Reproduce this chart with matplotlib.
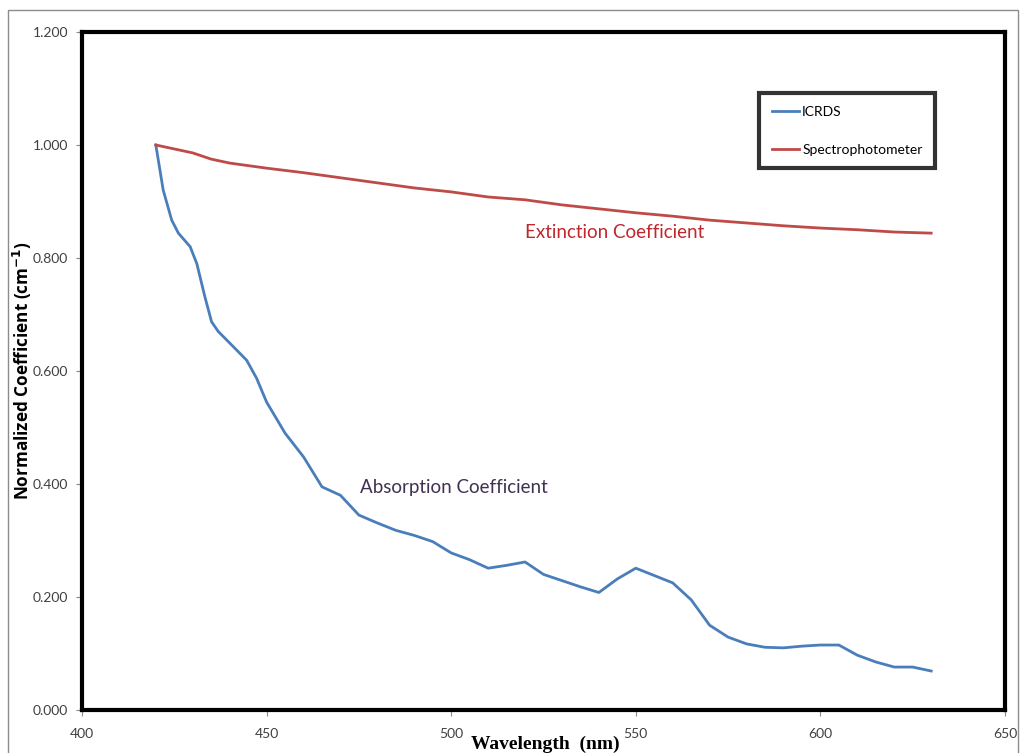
import numpy as np
import matplotlib.pyplot as plt
from matplotlib.patches import Rectangle

# ICRDS wavelengths (nm), denser where the curve drops steeply
icrds_wl = [420, 422, 424.3, 426.1, 429.3, 431.1, 433.3, 435.1, 436.9, 441.9,
            444.6, 447.3, 450, 455, 460, 465, 470, 475, 480, 485, 490, 495,
            500, 505, 510, 515, 520, 525, 530, 535, 540, 545, 550, 555, 560,
            565, 570, 575, 580, 585, 590, 595, 600, 605, 610, 615, 620, 625,
            630]

# normalized absorption coefficient (ICRDS)
icrds = [1.000, 0.920, 0.867, 0.844, 0.820, 0.790, 0.731, 0.687, 0.670, 0.637,
         0.619, 0.587, 0.545, 0.490, 0.448, 0.395, 0.380, 0.345, 0.331, 0.318,
         0.309, 0.298, 0.278, 0.266, 0.251, 0.256, 0.262, 0.240, 0.229, 0.218,
         0.208, 0.232, 0.251, 0.238, 0.225, 0.195, 0.150, 0.129, 0.117, 0.111,
         0.110, 0.113, 0.115, 0.115, 0.097, 0.085, 0.076, 0.076, 0.069]

# normalized extinction coefficient (spectrophotometer)
spectro_wl = [420, 430, 435, 440, 450, 460, 470, 480, 490, 500, 510, 520,
              530, 540, 550, 560, 570, 580, 590, 600, 610, 620, 630]
spectro = [1.000, 0.986, 0.975, 0.968, 0.959, 0.951, 0.942, 0.933, 0.924,
           0.917, 0.908, 0.903, 0.894, 0.887, 0.880, 0.874, 0.867, 0.862,
           0.857, 0.853, 0.850, 0.846, 0.844]

xticks = [400, 450, 500, 550, 600, 650]
yticks = [0.0, 0.2, 0.4, 0.6, 0.8, 1.0, 1.2]

plt.rcParams['font.family'] = ['Lato', 'DejaVu Sans']

fig = plt.figure(figsize=(10.24, 7.53), dpi=100)
fig.patches.append(Rectangle((8 / 1024, -0.05), 1010 / 1024, 1.05 - 10 / 753,
                             transform=fig.transFigure, fill=False,
                             edgecolor='#8c8c8c', linewidth=1.0))

ax = fig.add_axes([82 / 1024, 1 - 710 / 753, 923 / 1024, 678 / 753])
ax.plot(icrds_wl, icrds, color='#4A7EBB', linewidth=2.0, label='ICRDS',
        solid_joinstyle='round')
ax.plot(spectro_wl, spectro, color='#BE4B48', linewidth=2.0,
        label='Spectrophotometer', solid_joinstyle='round')

ax.set_xlim(400, 650)
ax.set_ylim(0, 1.2)
ax.set_xticks(xticks)
ax.set_yticks(yticks)
ax.set_yticklabels([f'{v:.3f}' for v in yticks])
ax.tick_params(axis='both', colors='#8c8c8c', labelcolor='#404040',
               labelsize=10, length=4, width=0.8, direction='out')
ax.tick_params(axis='x', pad=9)
ax.tick_params(axis='y', pad=6)

for s in ax.spines.values():
    s.set_linewidth(3.0)
    s.set_color('black')

ax.set_ylabel('Normalized Coefficient (cm$^{\\mathbf{-1}}$)', fontsize=12.3,
              fontweight='bold', family=['Open Sans', 'DejaVu Sans'], labelpad=-1)
fig.text(545 / 1024, 1 - 744 / 753, 'Wavelength  (nm)', fontsize=14,
         fontweight='bold', family=['Liberation Serif', 'DejaVu Serif'],
         ha='center', va='center')

ax.text(520, 0.845, 'Extinction Coefficient', color='#C0272D', fontsize=13.5,
        ha='left', va='center')
ax.text(475.3, 0.394, 'Absorption Coefficient', color='#403151', fontsize=13.5,
        ha='left', va='center')

leg = ax.legend(loc='upper left', bbox_to_anchor=(759 / 1024, 1 - 93 / 753),
                bbox_transform=fig.transFigure, fontsize=10, frameon=True,
                fancybox=False, handlelength=2.0, handletextpad=0.2,
                labelspacing=1.9, borderpad=0.9, borderaxespad=0)
leg.get_frame().set_edgecolor('black')
leg.get_frame().set_linewidth(3.0)

fig.savefig('out.png', dpi=100)
